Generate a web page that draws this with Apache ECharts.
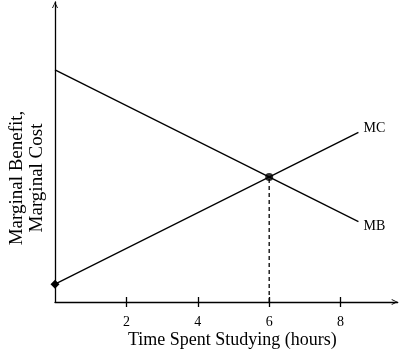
<!DOCTYPE html>
<html>
<head>
<meta charset="utf-8">
<script src="https://cdn.jsdelivr.net/npm/echarts@6/dist/echarts.min.js"></script>
<style>html,body{margin:0;padding:0;background:#fff;}#c{width:400px;height:357px;}</style>
</head>
<body>
<div id="c"></div>
<script>
var hours = [0, 8.5];
var mbValues = [6.5, 2.25];
var mcValues = [0.5, 4.75];
var eqHour = 6;
var eqValue = 3.5;
var xTicks = [2, 4, 6, 8];
var xName = 'Time Spent Studying (hours)';
var yName = 'Marginal Benefit,\nMarginal Cost';

var FONT = '"Liberation Serif", "Times New Roman", serif';
var chevron = 'path://M5,0 L10,10 L8.4,10 L5,2.6 L1.6,10 L0,10 Z';

var chart = echarts.init(document.getElementById('c'));

function pts(vals) { return hours.map(function (h, i) { return [h, vals[i]]; }); }

var mcData = pts(mcValues);
mcData[0] = { value: mcData[0], symbol: 'diamond', symbolSize: 9, itemStyle: { color: '#000' } };

chart.setOption({
  animation: false,
  backgroundColor: '#fff',
  grid: { left: 55, right: 2.3, top: 2, bottom: 55 },
  xAxis: [{
    type: 'value', min: 0, max: 9.6, interval: 2,
    name: xName, nameLocation: 'middle', nameGap: 29, nameMoveOverlap: false,
    nameTextStyle: { fontFamily: FONT, fontSize: 18, color: '#000', padding: [0, 0, 0, 12] },
    axisLine: { show: true, lineStyle: { color: '#000', width: 1.3 }, symbol: ['none', chevron], symbolSize: [10, 6], symbolOffset: [0, -3] },
    axisTick: { show: true, length: 5, lineStyle: { color: '#000', width: 1.3 }, customValues: xTicks },
    axisLabel: { show: true, margin: 13, fontFamily: FONT, fontSize: 14, color: '#000', customValues: xTicks },
    splitLine: { show: false }
  }, {
    type: 'value', min: 0, max: 9.6, interval: 2, position: 'bottom',
    axisLine: { show: false },
    axisTick: { show: true, inside: true, length: 5, lineStyle: { color: '#000', width: 1.3 }, customValues: xTicks },
    axisLabel: { show: false },
    splitLine: { show: false }
  }],
  yAxis: {
    type: 'value', min: 0, max: 8.4,
    axisLine: { show: true, lineStyle: { color: '#000', width: 1.3 }, symbol: ['none', chevron], symbolSize: [10, 6], symbolOffset: [0, -3] },
    axisTick: { show: false },
    axisLabel: { show: false },
    splitLine: { show: false }
  },
  graphic: [{
    type: 'text', x: 27, y: 178, rotation: Math.PI / 2,
    style: { text: yName, fontFamily: FONT, fontSize: 19, lineHeight: 20, fill: '#000', align: 'center', verticalAlign: 'middle' }
  }],
  series: [{
    type: 'line', name: 'MB', data: pts(mbValues), showSymbol: false, symbol: 'none',
    lineStyle: { color: '#000', width: 1.3 },
    endLabel: { show: true, formatter: 'MB', distance: 5, offset: [0, 5], fontFamily: FONT, fontSize: 14, color: '#000' }
  }, {
    type: 'line', name: 'MC', data: mcData, symbol: 'none',
    lineStyle: { color: '#000', width: 1.3 },
    endLabel: { show: true, formatter: 'MC', distance: 5, offset: [0, -4], fontFamily: FONT, fontSize: 14, color: '#000' }
  }, {
    type: 'line', name: 'eq', data: [[eqHour, 0], [eqHour, eqValue]], symbol: 'none',
    lineStyle: { color: '#000', width: 1.3, type: [4, 3] }
  }, {
    type: 'scatter', data: [[eqHour, eqValue]], symbol: 'circle', symbolSize: 8,
    itemStyle: { color: '#000' }, z: 5
  }]
});
</script>
</body>
</html>
